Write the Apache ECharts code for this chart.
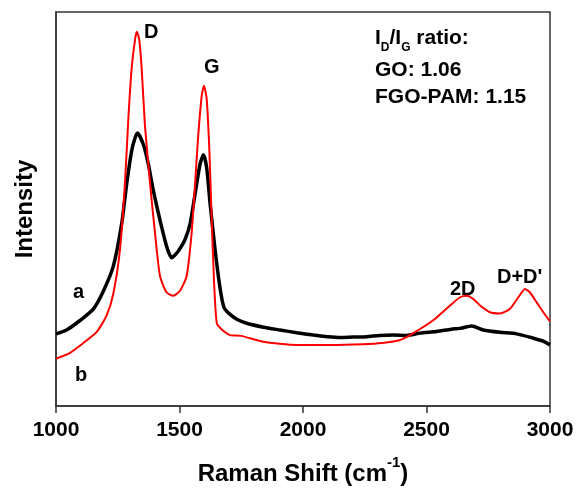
<!DOCTYPE html>
<html>
<head>
<meta charset="utf-8">
<script src="https://cdn.jsdelivr.net/npm/echarts@6/dist/echarts.min.js"></script>
<style>
  html, body { margin: 0; padding: 0; background: #fff; }
  #chart { width: 579px; height: 491px; }
</style>
</head>
<body>
<div id="chart"></div>
<script>
// Raman shift (cm-1) and intensity (arb.)
var goShift = [1000, 1043, 1097, 1151, 1192, 1232, 1266, 1286, 1306, 1320, 1330, 1354, 1374, 1394, 1421, 1448, 1468, 1480, 1495, 1522, 1543, 1563, 1583, 1597, 1610, 1624, 1644, 1664, 1680, 1700, 1732, 1772, 1840, 1907, 1975, 2042, 2100, 2150, 2200, 2258, 2310, 2366, 2420, 2474, 2541, 2600, 2636, 2683, 2730, 2798, 2865, 2933, 2970, 3000];
var goInt = [18.3, 19.3, 21.7, 24.6, 29.2, 35.5, 46.3, 56.3, 64.7, 68, 69.3, 66.3, 61.3, 54.7, 47.2, 40.5, 37.6, 38.2, 39.3, 42.2, 46.3, 53.8, 61.3, 63.8, 60.5, 51.3, 39.7, 30, 25, 23.5, 22, 21, 20, 19.3, 18.6, 18, 17.6, 17.4, 17.5, 17.6, 17.9, 18, 17.9, 18.5, 18.9, 19.5, 19.7, 20.3, 19.3, 18.7, 18.3, 17.2, 16.5, 15.5];

var fgoShift = [1000, 1057, 1111, 1165, 1205, 1232, 1259, 1279, 1293, 1306, 1320, 1327, 1337, 1347, 1360, 1381, 1401, 1421, 1448, 1475, 1502, 1529, 1549, 1563, 1576, 1590, 1599, 1610, 1621, 1630, 1640, 1651, 1670, 1705, 1750, 1839, 1975, 2110, 2244, 2320, 2393, 2447, 2527, 2595, 2636, 2663, 2689, 2717, 2757, 2798, 2838, 2872, 2899, 2919, 2946, 2973, 3000];
var fgoInt = [12, 13.5, 16, 18.8, 23, 28.5, 39.7, 56.3, 73, 85.5, 93, 95, 93, 85.5, 71.3, 56.3, 43.8, 33, 28.8, 28, 29.25, 33, 43.8, 56.3, 68.8, 78.8, 81.3, 78, 64.7, 48, 31.3, 21, 19.5, 18, 17.8, 16.3, 15.5, 15.5, 15.7, 16, 16.75, 18.5, 21.75, 25.5, 27.6, 28, 27.2, 25.5, 23.8, 23.5, 24.7, 27.6, 29.7, 28.8, 26.3, 23.8, 21.5];

var xTicks = [1000, 1500, 2000, 2500, 3000];

function pairs(xs, ys) {
  var out = [];
  for (var i = 0; i < xs.length; i++) {
    out.push([xs[i], ys[i]]);
  }
  return out;
}

var font = "Liberation Sans";
var myChart = echarts.init(document.getElementById("chart"));

myChart.setOption({
  animation: false,
  backgroundColor: "#ffffff",
  grid: {
    left: 56,
    right: 29,
    top: 12,
    bottom: 79,
    show: true,
    borderColor: "#333333",
    borderWidth: 1.5
  },
  xAxis: {
    type: "value",
    min: 1000,
    max: 3000,
    interval: 500,
    name: "{a|Raman Shift (cm}{b|-1}{a|)}",
    nameLocation: "middle",
    nameGap: 49,
    nameTextStyle: {
      rich: {
        a: { fontFamily: font, fontWeight: "bold", fontSize: 24, color: "#000", verticalAlign: "top", padding: [7, 0, 0, 0] },
        b: { fontFamily: font, fontWeight: "bold", fontSize: 15, color: "#000", verticalAlign: "top" }
      }
    },
    axisLine: { lineStyle: { color: "#333333", width: 1.5 } },
    axisTick: { show: true, inside: false, length: 7, lineStyle: { color: "#333333", width: 1.5 } },
    axisLabel: {
      margin: 14,
      fontFamily: font,
      fontWeight: "bold",
      fontSize: 21,
      color: "#000",
      formatter: function (v) {
        return xTicks.indexOf(v) >= 0 ? String(v) : "";
      }
    },
    splitLine: { show: false }
  },
  yAxis: {
    type: "value",
    min: 0,
    max: 100,
    name: "Intensity",
    nameLocation: "middle",
    nameGap: 19,
    nameTextStyle: { fontFamily: font, fontWeight: "bold", fontSize: 24, color: "#000" },
    axisLine: { show: true, lineStyle: { color: "#333333", width: 1.5 } },
    axisTick: { show: false },
    axisLabel: { show: false },
    splitLine: { show: false }
  },
  series: [
    {
      name: "GO",
      type: "line",
      data: pairs(goShift, goInt),
      showSymbol: false,
      smooth: 0.2,
      lineStyle: { color: "#000000", width: 3.5 },
      z: 2
    },
    {
      name: "FGO-PAM",
      type: "line",
      data: pairs(fgoShift, fgoInt),
      showSymbol: false,
      smooth: 0.2,
      lineStyle: { color: "#ff0000", width: 2 },
      z: 3
    }
  ],
  graphic: [
    { type: "text", left: 144, top: 22, style: { text: "D", fontFamily: font, fontWeight: "bold", fontSize: 20, fill: "#000" } },
    { type: "text", left: 204, top: 57, style: { text: "G", fontFamily: font, fontWeight: "bold", fontSize: 20, fill: "#000" } },
    { type: "text", left: 73, top: 282, style: { text: "a", fontFamily: font, fontWeight: "bold", fontSize: 20, fill: "#000" } },
    { type: "text", left: 75, top: 365, style: { text: "b", fontFamily: font, fontWeight: "bold", fontSize: 20, fill: "#000" } },
    { type: "text", left: 450, top: 279, style: { text: "2D", fontFamily: font, fontWeight: "bold", fontSize: 20, fill: "#000" } },
    { type: "text", left: 497, top: 267, style: { text: "D+D'", fontFamily: font, fontWeight: "bold", fontSize: 20, fill: "#000" } },
    {
      type: "text",
      left: 375,
      top: 28,
      style: {
        text: "{n|I}{s|D}{n|/I}{s|G}{n| ratio:}",
        rich: {
          n: { fontFamily: font, fontWeight: "bold", fontSize: 21, fill: "#000", verticalAlign: "bottom", padding: [0, 0, 5, 0] },
          s: { fontFamily: font, fontWeight: "bold", fontSize: 12, fill: "#000", verticalAlign: "bottom" }
        }
      }
    },
    { type: "text", left: 375, top: 60, style: { text: "GO: 1.06", fontFamily: font, fontWeight: "bold", fontSize: 21, fill: "#000" } },
    { type: "text", left: 375, top: 87, style: { text: "FGO-PAM: 1.15", fontFamily: font, fontWeight: "bold", fontSize: 21, fill: "#000" } }
  ]
});
</script>
</body>
</html>
